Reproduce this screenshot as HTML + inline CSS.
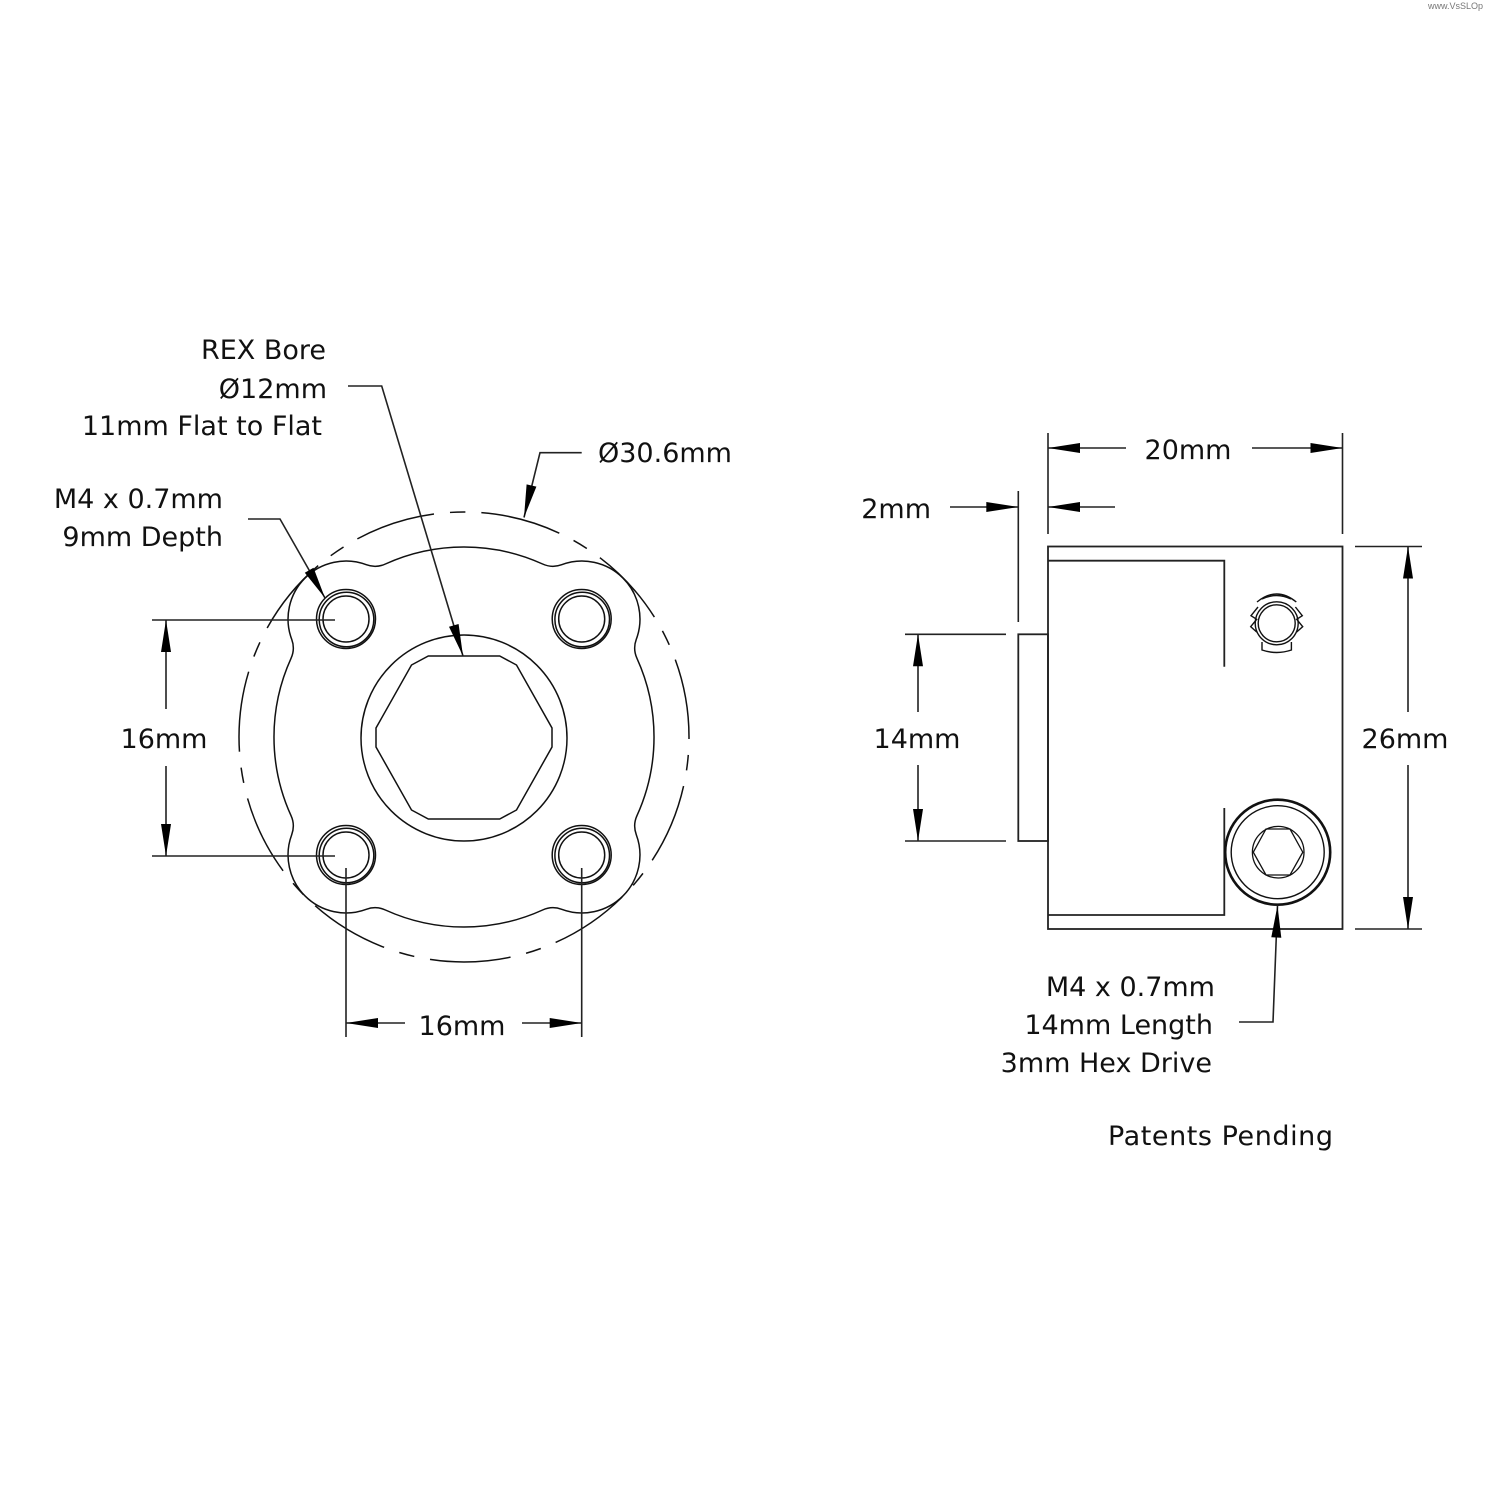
<!DOCTYPE html>
<html>
<head>
<meta charset="utf-8">
<style>
  html,body{margin:0;padding:0;background:#fff;}
  svg{display:block;}
  text{font-family:"DejaVu Sans","Liberation Sans",sans-serif;font-size:27px;fill:#111;}
</style>
</head>
<body>
<svg width="1500" height="1500" viewBox="0 0 1500 1500" xmlns="http://www.w3.org/2000/svg">
  <rect width="1500" height="1500" fill="#fff"/>
  <text x="1428" y="9" style="font-size:9px;fill:#777;font-family:'Liberation Sans',sans-serif;">www.VsSLOp</text>

  <!-- ============ LEFT VIEW ============ -->
  <g fill="none" stroke="#111" stroke-width="1.5">
    <circle cx="464" cy="737" r="225" stroke-dasharray="81 16 15.5 16" stroke-dashoffset="79"/>
    <path d="M385.4,564 A190,190 0 0 1 542.6,564 A25,25 0 0 0 561.7,564.7 A58,58 0 0 1 636.3,639.3 A25,25 0 0 0 637,658.4 A190,190 0 0 1 637,815.6 A25,25 0 0 0 636.3,834.7 A58,58 0 0 1 561.7,909.3 A25,25 0 0 0 542.6,910 A190,190 0 0 1 385.4,910 A25,25 0 0 0 366.3,909.3 A58,58 0 0 1 291.7,834.7 A25,25 0 0 0 291,815.6 A190,190 0 0 1 291,658.4 A25,25 0 0 0 291.7,639.3 A58,58 0 0 1 366.3,564.7 A25,25 0 0 0 385.4,564 Z"/>
    <circle cx="464" cy="738" r="103"/>
    <polygon points="428.3,656 499.7,656 516.5,665 552,728 552,747 516.5,810 499.7,819 428.3,819 411.5,810 376,747 376,728 411.5,665"/>
    <g>
      <circle cx="346" cy="619" r="29.5"/><circle cx="346.5" cy="619.5" r="27.3"/><circle cx="346" cy="619" r="23"/>
      <circle cx="581.7" cy="619" r="29.5"/><circle cx="582.2" cy="619.5" r="27.3"/><circle cx="581.7" cy="619" r="23"/>
      <circle cx="346" cy="855" r="29.5"/><circle cx="346.5" cy="855.5" r="27.3"/><circle cx="346" cy="855" r="23"/>
      <circle cx="581.7" cy="855" r="29.5"/><circle cx="582.2" cy="855.5" r="27.3"/><circle cx="581.7" cy="855" r="23"/>
    </g>
  </g>

  <g fill="none" stroke="#222" stroke-width="1.6">
    <line x1="152" y1="620" x2="335" y2="620"/>
    <line x1="152" y1="856" x2="335" y2="856"/>
    <line x1="346" y1="868" x2="346" y2="1037"/>
    <line x1="581.7" y1="868" x2="581.7" y2="1037"/>
    <line x1="166" y1="620" x2="166" y2="709"/>
    <line x1="166" y1="766" x2="166" y2="856"/>
    <line x1="346" y1="1023" x2="405" y2="1023"/>
    <line x1="522" y1="1023" x2="581.7" y2="1023"/>
    <polyline points="248,519 280,519 325,598"/>
    <polyline points="348,386 381.7,386 463,656"/>
    <polyline points="581.7,452.7 540,452.7 524,517.5"/>
  </g>
  <g fill="#000" stroke="none">
    <polygon points="166,620 161,652 171,652"/>
    <polygon points="166,856 161,824 171,824"/>
    <polygon points="346,1023 378,1018 378,1028"/>
    <polygon points="581.7,1023 549.7,1018 549.7,1028"/>
    <polygon points="325,598 313.5,567.7 304.8,572.7"/>
    <polygon points="463,656 458.6,624 449,626.8"/>
    <polygon points="524,517.5 536.4,486.6 526.6,484.4"/>
  </g>

  <text x="326" y="359" text-anchor="end">REX Bore</text>
  <text x="327" y="398" text-anchor="end">Ø12mm</text>
  <text x="322" y="435" text-anchor="end">11mm Flat to Flat</text>
  <text x="223" y="508" text-anchor="end">M4 x 0.7mm</text>
  <text x="223" y="546" text-anchor="end">9mm Depth</text>
  <text x="598" y="462">Ø30.6mm</text>
  <text x="164" y="748" text-anchor="middle">16mm</text>
  <text x="462" y="1035" text-anchor="middle">16mm</text>

  <!-- ============ RIGHT VIEW ============ -->
  <g fill="none" stroke="#222" stroke-width="1.8">
    <rect x="1048" y="546.5" width="294.5" height="382.5"/>
    <polyline points="1048,560.7 1224.3,560.7 1224.3,666.7"/>
    <polyline points="1224.3,808 1224.3,915 1048,915"/>
    <rect x="1018.3" y="634.3" width="29.7" height="206.7"/>
  </g>
  <g fill="none" stroke="#111" stroke-width="1.4">
    <circle cx="1276.7" cy="623.3" r="21.5"/>
    <circle cx="1276.7" cy="623.3" r="18.5"/>
    <path d="M1257,602 Q1276.7,586 1296.3,602"/>
    <path d="M1262,599 Q1276.7,592 1291,599"/>
    <polyline points="1258,607 1251,615.7 1256.7,619.3 1250.7,626.7 1256.7,632"/>
    <polyline points="1295.4,607 1302.3,615.7 1296.7,619.3 1302.7,626.7 1296.7,632"/>
    <path d="M1262,642 L1262,650 Q1276.7,655 1291.4,650 L1291.4,642"/>
  </g>
  <g fill="none" stroke="#111">
    <circle cx="1277.7" cy="852.2" r="52.5" stroke-width="2.6"/>
    <circle cx="1277.7" cy="852.2" r="46.5" stroke-width="1.4"/>
    <circle cx="1278.2" cy="852.2" r="25.8" stroke-width="1.3"/>
    <polygon points="1253.3,852.2 1266,829 1290,829 1302.8,852.2 1290,875 1266,875" stroke-width="1.3"/>
  </g>

  <g fill="none" stroke="#222" stroke-width="1.6">
    <line x1="1048" y1="433" x2="1048" y2="534"/>
    <line x1="1342.5" y1="433" x2="1342.5" y2="534"/>
    <line x1="1018.3" y1="491" x2="1018.3" y2="622"/>
    <line x1="905" y1="634.3" x2="1006" y2="634.3"/>
    <line x1="905" y1="841" x2="1006" y2="841"/>
    <line x1="1355" y1="546.5" x2="1422" y2="546.5"/>
    <line x1="1355" y1="929" x2="1422" y2="929"/>
    <line x1="1048" y1="448" x2="1126" y2="448"/>
    <line x1="1252" y1="448" x2="1342.5" y2="448"/>
    <line x1="950" y1="507" x2="1018.3" y2="507"/>
    <line x1="1048" y1="507" x2="1115" y2="507"/>
    <line x1="918" y1="634.3" x2="918" y2="712"/>
    <line x1="918" y1="765" x2="918" y2="841"/>
    <line x1="1408" y1="546.5" x2="1408" y2="712"/>
    <line x1="1408" y1="765" x2="1408" y2="929"/>
    <polyline points="1239,1022 1273,1022 1277.5,905.5"/>
  </g>
  <g fill="#000" stroke="none">
    <polygon points="1048,448 1080,443 1080,453"/>
    <polygon points="1342.5,448 1310.5,443 1310.5,453"/>
    <polygon points="1018.3,507 986.3,502 986.3,512"/>
    <polygon points="1048,507 1080,502 1080,512"/>
    <polygon points="918,634.3 913,666.3 923,666.3"/>
    <polygon points="918,841 913,809 923,809"/>
    <polygon points="1408,546.5 1403,578.5 1413,578.5"/>
    <polygon points="1408,929 1403,897 1413,897"/>
    <polygon points="1277.5,905.5 1281.3,937.7 1271.3,937.3"/>
  </g>

  <text x="1188" y="459" text-anchor="middle">20mm</text>
  <text x="931" y="518" text-anchor="end">2mm</text>
  <text x="917" y="748" text-anchor="middle">14mm</text>
  <text x="1405" y="748" text-anchor="middle">26mm</text>
  <text x="1215" y="996" text-anchor="end">M4 x 0.7mm</text>
  <text x="1213" y="1034" text-anchor="end">14mm Length</text>
  <text x="1212" y="1072" text-anchor="end">3mm Hex Drive</text>
  <text x="1108" y="1145" textLength="225" lengthAdjust="spacing">Patents Pending</text>
</svg>
</body>
</html>
